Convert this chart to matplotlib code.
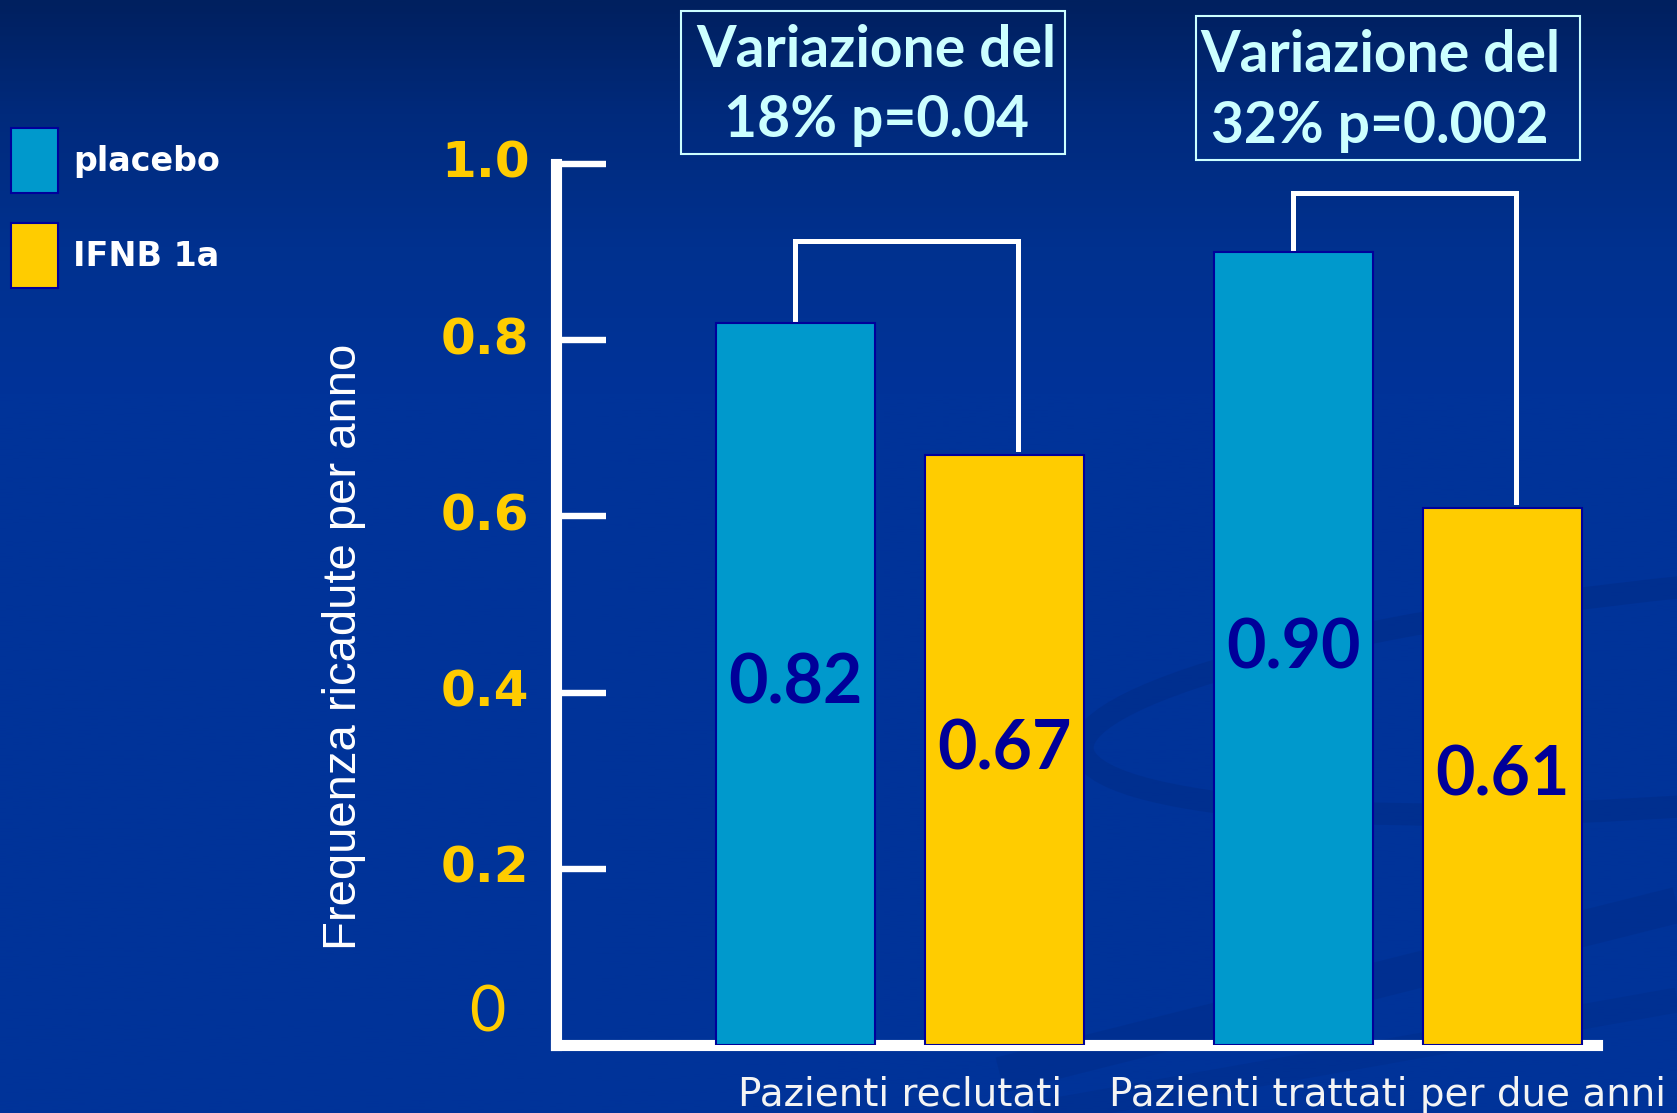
import numpy as np
import matplotlib.pyplot as plt
from matplotlib.colors import LinearSegmentedColormap
from matplotlib.patches import Rectangle, Ellipse
from matplotlib.transforms import offset_copy, ScaledTranslation

# Relapse rate per year, two patient populations
groups = ['Pazienti reclutati', 'Pazienti trattati per due anni']
series_names = ['placebo', 'IFNB 1a']
placebo = [0.82, 0.90]
ifnb = [0.67, 0.61]
change_text = ['Variazione del\n18% p=0.04', 'Variazione del\n32% p=0.002']
bracket_top = [0.913, 0.967]
yticks = [0, 0.2, 0.4, 0.6, 0.8, 1.0]
ytick_labels = ['', '0.2', '0.4', '0.6', '0.8', '1.0']

BG = '#003399'
BLUE = '#0099cc'
YELLOW = '#ffcc00'
NAVY = '#000099'
PALE = '#ccffff'
SHADE = '#002c88'

W, H = 1677, 1113
fig = plt.figure(figsize=(W / 100, H / 100), dpi=100)
fig.patch.set_facecolor(BG)

# background: darker band at the top plus a faint swoosh on the right
bg = fig.add_axes([0, 0, 1, 1], zorder=-10)
bg.set_xlim(0, W)
bg.set_ylim(H, 0)
bg.axis('off')
cmap = LinearSegmentedColormap.from_list(
    'bg', [(0, '#00205f'), (0.1, '#002a7c'), (0.22, '#00318f'),
           (0.35, BG), (1, BG)])
grad = np.linspace(0, 1, 400)[:, None]
bg.imshow(grad, cmap=cmap, extent=[0, W, H, 0], aspect='auto')
bg.add_patch(Ellipse((1760, 690), 1360, 220, angle=-5, fill=False,
                     edgecolor=SHADE, lw=16, alpha=0.55))
bg.plot([1000, 1677], [1075, 905], color=SHADE, lw=26, alpha=0.45,
        solid_capstyle='butt')
bg.plot([1000, 1677], [1120, 1000], color=SHADE, lw=18, alpha=0.4,
        solid_capstyle='butt')

ax = fig.add_axes([556 / W, 1 - 1045 / H, (1597 - 556) / W, (1045 - 164) / H])
ax.set_facecolor('none')

x = np.arange(len(groups))
width = 0.32
off = 0.21
b1 = ax.bar(x - off, placebo, width, color=BLUE, edgecolor=NAVY,
            linewidth=1.5, zorder=3)
b2 = ax.bar(x + off, ifnb, width, color=YELLOW, edgecolor=NAVY,
            linewidth=1.5, zorder=3)

# value labels inside the bars
for xs, vals in [(x - off, placebo), (x + off, ifnb)]:
    for xi, v in zip(xs, vals):
        ax.text(xi, v / 2, f'{v:.2f}', ha='center', va='center',
                color=NAVY, fontsize=49, fontfamily='Lato', fontweight='bold',
                zorder=4)

# brackets joining each pair of bars
for i in range(len(groups)):
    xl, xr = x[i] - off, x[i] + off + 0.027
    ax.plot([xl, xl, xr, xr],
            [placebo[i], bracket_top[i], bracket_top[i], ifnb[i] + 0.006],
            color='white', lw=3.6, solid_joinstyle='miter', zorder=2)

ax.set_xlim(-0.691, 1.40)
ax.set_ylim(0, 1.0)

for side in ['top', 'right']:
    ax.spines[side].set_visible(False)
for side in ['left', 'bottom']:
    ax.spines[side].set_color('white')
    ax.spines[side].set_linewidth(8)

ax.set_yticks(yticks, ytick_labels)
ax.tick_params(axis='y', direction='in', length=36, width=4.6, color='white',
               pad=19, labelcolor=YELLOW, labelsize=36)
for lab in ax.get_yticklabels():
    lab.set_fontweight('bold')
    lab.set_fontfamily('DejaVu Sans')
    lab.set_va('center')
ax.yaxis.get_major_ticks()[-1].tick1line.set_color(NAVY)

# zero label sits a little above the baseline
ax.text(-0.066, 0, '0', transform=offset_copy(ax.get_yaxis_transform(), fig=fig,
                                              y=32, units='dots'),
        ha='center', va='center', color=YELLOW, fontsize=45, fontfamily='Lato')

ax.set_xticks(x, groups)
ax.tick_params(axis='x', length=0, pad=22, labelcolor='#f4f4f4',
               labelsize=28)
# keep the long right-hand category inside the figure
last = ax.get_xticklabels()[-1]
last.set_transform(last.get_transform() +
                   ScaledTranslation(-0.1, 0, fig.dpi_scale_trans))

ax.set_ylabel('Frequenza ricadute per anno', color='white', fontsize=34,
              fontfamily='Liberation Sans', va='center')
ax.yaxis.set_label_coords(-0.2037, 0.452)

# legend in the top left corner
fig.legend(handles=[b1, b2], labels=series_names, loc='upper left',
           bbox_to_anchor=(11 / W, 1 - 128 / H), frameon=False, borderpad=0,
           borderaxespad=0, handlelength=1.42, handleheight=2.63,
           handletextpad=0.45, labelspacing=0.9, labelcolor='white',
           prop=dict(family='DejaVu Sans', weight='bold', size=24))

# boxed change annotations above the brackets
boxes = [(681, 11, 384, 143), (1196, 16, 384, 144)]
text_x = [876, 1380]
for (bx, by, bw, bh), tx, txt in zip(boxes, text_x, change_text):
    fig.add_artist(Rectangle((bx / W, 1 - (by + bh) / H), bw / W, bh / H,
                             transform=fig.transFigure, fill=False,
                             edgecolor=PALE, lw=1.5))
    fig.text(tx / W, 1 - (by + bh / 2 + 3) / H, txt, ha='center', va='center',
             color=PALE, fontsize=41, linespacing=1.4,
             fontfamily='Lato', fontweight='bold')

fig.savefig('out.png', dpi=100, facecolor=fig.get_facecolor())
